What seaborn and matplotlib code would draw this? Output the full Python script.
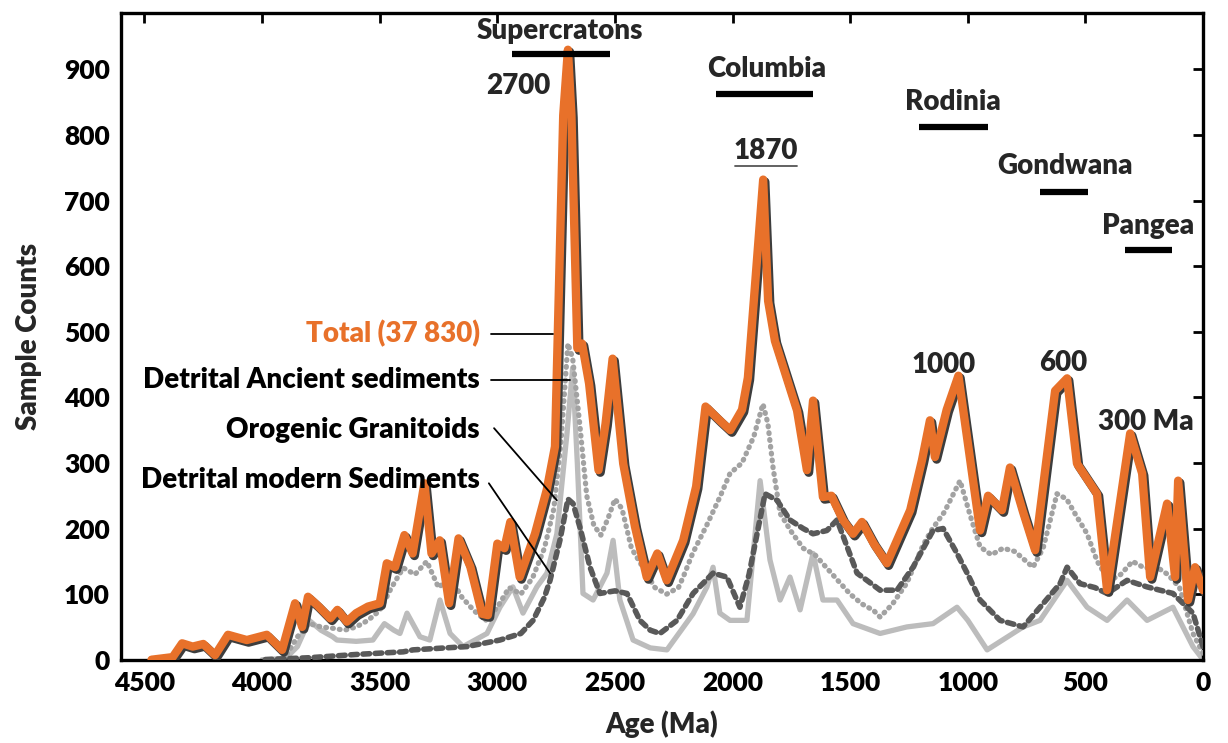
import numpy as np
import pandas as pd
import matplotlib
matplotlib.use("Agg")
import matplotlib.pyplot as plt
import matplotlib.patheffects as pe
import seaborn as sns

# ---------------- data ----------------
total_age = [4470, 4380, 4340, 4295, 4250, 4200, 4145, 4065, 3980, 3915, 3860, 3830, 3805,
             3765, 3710, 3680, 3640, 3600, 3550, 3500, 3470, 3435, 3395, 3360, 3310, 3280,
             3245, 3205, 3165, 3115, 3065, 3040, 3000, 2970, 2945, 2905, 2840, 2790, 2755,
             2720, 2700, 2685, 2660, 2640, 2610, 2570, 2540, 2510, 2465, 2415, 2365, 2320,
             2280, 2210, 2155, 2115, 2055, 2010, 1960, 1935, 1870, 1849, 1820, 1726, 1684,
             1658, 1616, 1580, 1531, 1488, 1450, 1400, 1344, 1245, 1195, 1161, 1140, 1090,
             1040, 948, 914, 855, 821, 765, 714, 629, 578, 536, 451, 408, 310, 259, 225,
             153, 119, 106, 64, 34, 0]
total_cnt = [0, 4, 25, 20, 24, 7, 38, 30, 38, 15, 86, 50, 96,
             83, 63, 76, 58, 71, 81, 86, 147, 141, 190, 162, 269, 162,
             182, 86, 185, 142, 70, 68, 177, 170, 210, 126, 192, 259, 325,
             830, 930, 830, 475, 482, 421, 289, 360, 459, 299, 203, 126, 162,
             121, 182, 264, 386, 365, 350, 381, 430, 732, 547, 486, 380, 289,
             395, 248, 250, 213, 192, 210, 177, 147, 228, 304, 365, 309, 381,
             433, 197, 250, 228, 293, 225, 167, 410, 429, 299, 253, 106, 345, 284, 126,
             238, 126, 273, 91, 141, 106]

ancient_age = [3900, 3850, 3800, 3750, 3700, 3650, 3600, 3550, 3500, 3450, 3400, 3350, 3300,
               3250, 3200, 3150, 3100, 3050, 3000, 2950, 2900, 2850, 2800, 2760, 2730, 2700,
               2680, 2650, 2620, 2590, 2560, 2530, 2500, 2470, 2430, 2380, 2330, 2280, 2230,
               2210, 2170, 2110, 2054, 2011, 1960, 1910, 1871, 1850, 1828, 1798, 1750, 1700,
               1650, 1600, 1543, 1500, 1450, 1400, 1373, 1320, 1259, 1190, 1150, 1100, 1033,
               990, 948, 900, 850, 800, 723, 680, 621, 580, 540, 493, 450, 400, 350, 300,
               250, 196, 150, 100, 43, 0]
ancient_cnt = [5, 35, 55, 50, 48, 45, 50, 60, 75, 110, 140, 130, 150,
               110, 125, 95, 75, 60, 80, 110, 100, 125, 170, 230, 330, 482,
               460, 360, 250, 205, 190, 215, 245, 230, 170, 140, 110, 100, 110,
               126, 162, 205, 248, 284, 300, 340, 390, 360, 293, 223, 195, 170,
               160, 140, 117, 100, 85, 75, 65, 85, 117, 175, 200, 225, 273,
               220, 172, 160, 170, 165, 141, 170, 253, 245, 220, 192, 150, 120, 130, 150,
               140, 141, 130, 110, 40, 10]

granit_age = [4000, 3800, 3600, 3400, 3358, 3129, 2989, 2900, 2848, 2800, 2776, 2734, 2700,
              2678, 2649, 2606, 2564, 2500, 2449, 2394, 2350, 2309, 2236, 2168, 2083, 2024,
              1969, 1930, 1896, 1862, 1811, 1756, 1700, 1658, 1599, 1556, 1471, 1429, 1373,
              1301, 1233, 1148, 1105, 1046, 1000, 948, 863, 765, 693, 608, 578, 523, 460,
              408, 323, 238, 128, 43, 0]
granit_cnt = [0, 3, 8, 12, 15, 20, 30, 40, 60, 95, 121, 182, 245,
              238, 202, 141, 101, 105, 101, 60, 45, 40, 60, 101, 132, 126,
              80, 130, 192, 253, 243, 213, 200, 192, 197, 213, 132, 121, 106,
              106, 141, 197, 200, 162, 130, 91, 60, 50, 80, 116, 141, 116, 110,
              101, 121, 111, 101, 71, 20]

modern_age = [4000, 3900, 3850, 3800, 3750, 3700, 3682, 3600, 3529, 3480, 3440, 3414, 3384,
              3329, 3287, 3244, 3201, 3146, 3044, 2989, 2934, 2891, 2832, 2789, 2747, 2704,
              2680, 2660, 2636, 2593, 2534, 2508, 2479, 2423, 2350, 2279, 2168, 2109, 2083,
              2054, 2011, 1939, 1883, 1841, 1798, 1756, 1713, 1658, 1616, 1556, 1488, 1373,
              1259, 1148, 1046, 1000, 918, 765, 693, 578, 493, 408, 323, 238, 128, 43, 0]
modern_cnt = [0, 2, 20, 60, 45, 35, 30, 28, 30, 55, 45, 40, 71,
              35, 30, 91, 40, 20, 40, 80, 111, 71, 111, 132, 192, 345,
              445, 300, 101, 91, 132, 182, 91, 30, 18, 15, 70, 111, 141,
              71, 60, 60, 273, 152, 91, 126, 76, 162, 91, 91, 55, 40,
              50, 55, 80, 60, 15, 50, 60, 121, 80, 60, 91, 60, 80, 20, 0]

series_names = ["Total (37 830)", "Detrital Ancient sediments",
                "Orogenic Granitoids", "Detrital modern Sediments"]

sc_names = ["Supercratons", "Columbia", "Rodinia", "Gondwana", "Pangea"]
sc_start = [2938, 2071, 1207, 693, 332]
sc_end = [2521, 1658, 914, 489, 132]

peak_labels = ["2700", "1870", "1000", "600", "300 Ma"]

x_ticks = [4500, 4000, 3500, 3000, 2500, 2000, 1500, 1000, 500, 0]
y_ticks = [0, 100, 200, 300, 400, 500, 600, 700, 800, 900]

# ---------------- style ----------------
sns.set_style("white")
plt.rcParams["font.family"] = ["Lato", "DejaVu Sans"]
plt.rcParams["font.weight"] = "heavy"
plt.rcParams["axes.labelweight"] = "heavy"

ORANGE = "#e8712a"
FS = 20
W = "heavy"

fig = plt.figure(figsize=(12.28, 7.43), dpi=100)
ax = fig.add_axes([0.0985, 0.1121, 0.8812, 0.8704])

df_modern = pd.DataFrame({"age": modern_age, "count": modern_cnt})
df_ancient = pd.DataFrame({"age": ancient_age, "count": ancient_cnt})
df_granit = pd.DataFrame({"age": granit_age, "count": granit_cnt})
df_total = pd.DataFrame({"age": total_age, "count": total_cnt})

sns.lineplot(data=df_modern, x="age", y="count", ax=ax, color="#bcbcbc", lw=3.8,
             estimator=None, zorder=2)
sns.lineplot(data=df_ancient, x="age", y="count", ax=ax, color="#a2a2a2", lw=3.8,
             estimator=None, linestyle=(0, (0.15, 1.15)), dash_capstyle="round", zorder=3)
sns.lineplot(data=df_granit, x="age", y="count", ax=ax, color="#595959", lw=4.0,
             estimator=None, linestyle=(0, (1.2, 1.0)), dash_capstyle="round", zorder=4)
sns.lineplot(data=df_total, x="age", y="count", ax=ax, color=ORANGE, lw=6.0,
             estimator=None, zorder=6,
             path_effects=[pe.Stroke(offset=(1.3, -1.6), linewidth=6.5, foreground="#3d3d3d"),
                           pe.Normal()])

ax.set_xlim(4600, 0)
ax.set_ylim(0, 986)
ax.set_xticks(x_ticks)
ax.set_yticks(y_ticks)
ax.set_xticklabels([str(t) for t in x_ticks])
ax.set_yticklabels([str(t) for t in y_ticks])
ax.tick_params(direction="in", length=7, width=2, top=True, right=True,
               labelsize=19, pad=8, colors="black")
for lab in ax.get_xticklabels() + ax.get_yticklabels():
    lab.set_fontweight(W)
for s in ax.spines.values():
    s.set_linewidth(2.4)
    s.set_color("black")

ax.set_xlabel("Age (Ma)", fontsize=FS, fontweight=W)
ax.set_ylabel("Sample Counts", fontsize=FS, fontweight=W)
ax.xaxis.set_label_coords(0.5, -0.078)
ax.yaxis.set_label_coords(-0.073, 0.5)

# supercontinent bars and names
name_pos = [(2734, 958), (1854, 900), (1063, 850), (587, 752), (234, 662)]
bar_val = [923, 862, 812, 713, 625]
for nm, a0, a1, (tx, ty), bv in zip(sc_names, sc_start, sc_end, name_pos, bar_val):
    ax.plot([a0, a1], [bv, bv], color="black", lw=4.5, solid_capstyle="butt", zorder=7)
    ax.text(tx, ty, nm, ha="center", va="center", fontsize=FS, fontweight=W, zorder=8)

# peak labels
peak_pos = [(2912, 875), (1858, 775), (1101, 449), (595, 453), (242, 362)]
for lab, (tx, ty) in zip(peak_labels, peak_pos):
    ax.text(tx, ty, lab, ha="center", va="center", fontsize=FS, fontweight=W, zorder=8)
ax.plot([1990, 1726], [753, 753], color="#555555", lw=1.3, zorder=8)

# series labels with leader lines
lab_val = [497, 427, 350, 274]
lab_col = [ORANGE, "black", "black", "black"]
leaders = [((3027, 497), (2764, 497)), ((3027, 427), (2691, 427)),
           ((3014, 353), (2747, 243)), ((3036, 269), (2776, 132))]
for nm, v, c, (p0, p1) in zip(series_names, lab_val, lab_col, leaders):
    ax.text(3074, v, nm, ha="right", va="center", fontsize=FS, fontweight=W,
            color=c, zorder=8)
    ax.plot([p0[0], p1[0]], [p0[1], p1[1]], color="black", lw=1.3, zorder=8)

fig.savefig("out.png", dpi=100)
